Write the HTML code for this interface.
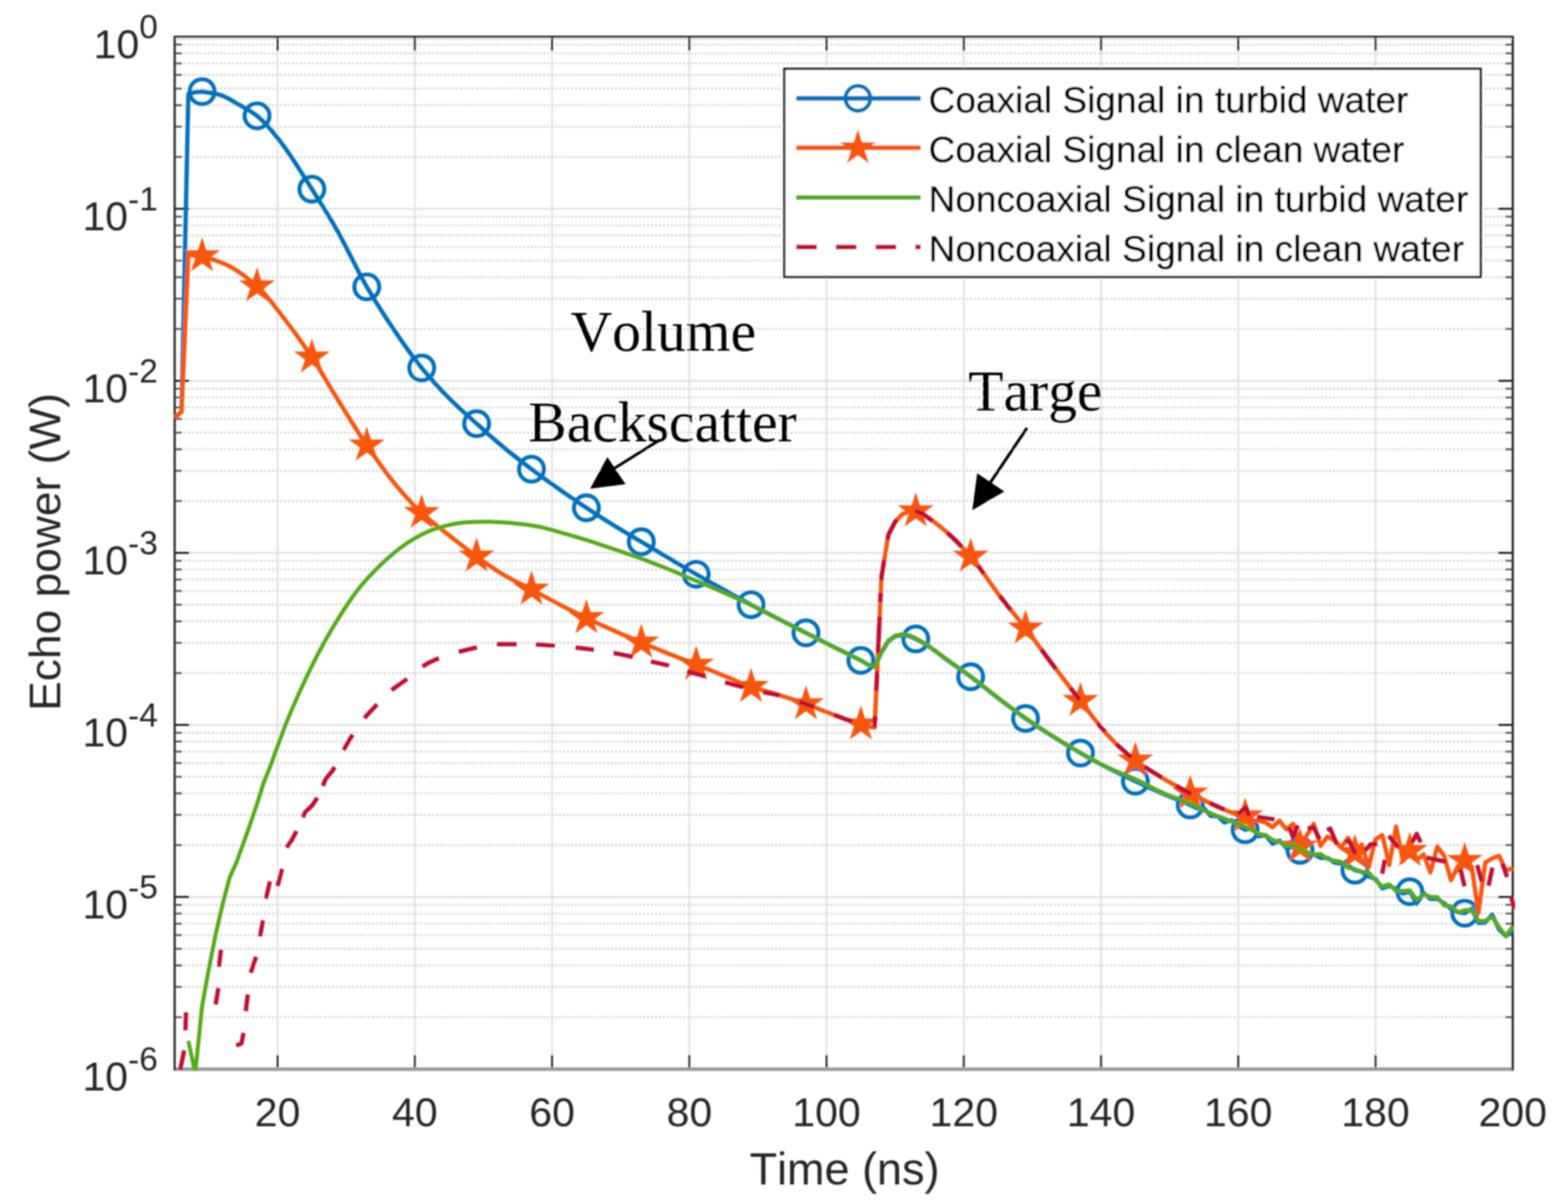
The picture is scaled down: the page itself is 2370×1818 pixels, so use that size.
<!DOCTYPE html>
<html lang="en"><head><meta charset="utf-8"><title>Echo power vs time</title>
<style>html,body{margin:0;padding:0;background:#fff;}body{width:2370px;height:1818px;overflow:hidden;}svg{display:block;}text{font-family:"Liberation Sans",sans-serif;fill:#262626;stroke:none;font-kerning:none;font-variant-ligatures:none;}.ser{font-family:"Liberation Serif",serif;fill:#000;stroke:none;}.ln{fill:none;stroke-linejoin:round;stroke-linecap:butt;}</style></head><body>
<svg width="2370" height="1818" viewBox="0 0 2370 1818">
<defs><filter id="bl" x="-2%" y="-2%" width="104%" height="104%"><feGaussianBlur stdDeviation="0.8"/></filter><clipPath id="cp"><rect x="261" y="54" width="2029" height="1564.2"/></clipPath></defs>
<rect width="2370" height="1818" fill="#fff"/>
<g filter="url(#bl)">
<g fill="none">
<path d="M278.5 1537.2H2274.5M278.5 1491.4H2274.5M278.5 1459H2274.5M278.5 1433.8H2274.5M278.5 1413.2H2274.5M278.5 1395.8H2274.5M278.5 1380.7H2274.5M278.5 1367.4H2274.5M278.5 1277.2H2274.5M278.5 1231.4H2274.5M278.5 1199H2274.5M278.5 1173.8H2274.5M278.5 1153.2H2274.5M278.5 1135.8H2274.5M278.5 1120.7H2274.5M278.5 1107.4H2274.5M278.5 1017.2H2274.5M278.5 971.4H2274.5M278.5 939H2274.5M278.5 913.8H2274.5M278.5 893.2H2274.5M278.5 875.8H2274.5M278.5 860.7H2274.5M278.5 847.4H2274.5M278.5 757.2H2274.5M278.5 711.4H2274.5M278.5 679H2274.5M278.5 653.8H2274.5M278.5 633.2H2274.5M278.5 615.8H2274.5M278.5 600.7H2274.5M278.5 587.4H2274.5M278.5 497.2H2274.5M278.5 451.4H2274.5M278.5 419H2274.5M278.5 393.8H2274.5M278.5 373.2H2274.5M278.5 355.8H2274.5M278.5 340.7H2274.5M278.5 327.4H2274.5M278.5 237.2H2274.5M278.5 191.4H2274.5M278.5 159H2274.5M278.5 133.8H2274.5M278.5 113.2H2274.5M278.5 95.8H2274.5M278.5 80.7H2274.5M278.5 67.4H2274.5" stroke="#d3d3d3" stroke-width="3" stroke-dasharray="3 3.03"/>
<path d="M264 1355.5H2286.5M264 1095.5H2286.5M264 835.5H2286.5M264 575.5H2286.5M264 315.5H2286.5" stroke="#dedede" stroke-width="2.6"/>
<path d="M264 58.5H2286.5" stroke="#d6d6d6" stroke-width="2.4"/>
<path d="M419.6 55.5V1615.5M627 55.5V1615.5M834.4 55.5V1615.5M1041.9 55.5V1615.5M1249.3 55.5V1615.5M1456.8 55.5V1615.5M1664.2 55.5V1615.5M1871.6 55.5V1615.5M2079.1 55.5V1615.5" stroke="#e0e0e0" stroke-width="2.6"/>
</g>
<g fill="none" stroke="#222">
<path d="M264 1537.2h11M2286.5 1537.2h-11M264 1491.4h11M2286.5 1491.4h-11M264 1459h11M2286.5 1459h-11M264 1433.8h11M2286.5 1433.8h-11M264 1413.2h11M2286.5 1413.2h-11M264 1395.8h11M2286.5 1395.8h-11M264 1380.7h11M2286.5 1380.7h-11M264 1367.4h11M2286.5 1367.4h-11M264 1277.2h11M2286.5 1277.2h-11M264 1231.4h11M2286.5 1231.4h-11M264 1199h11M2286.5 1199h-11M264 1173.8h11M2286.5 1173.8h-11M264 1153.2h11M2286.5 1153.2h-11M264 1135.8h11M2286.5 1135.8h-11M264 1120.7h11M2286.5 1120.7h-11M264 1107.4h11M2286.5 1107.4h-11M264 1017.2h11M2286.5 1017.2h-11M264 971.4h11M2286.5 971.4h-11M264 939h11M2286.5 939h-11M264 913.8h11M2286.5 913.8h-11M264 893.2h11M2286.5 893.2h-11M264 875.8h11M2286.5 875.8h-11M264 860.7h11M2286.5 860.7h-11M264 847.4h11M2286.5 847.4h-11M264 757.2h11M2286.5 757.2h-11M264 711.4h11M2286.5 711.4h-11M264 679h11M2286.5 679h-11M264 653.8h11M2286.5 653.8h-11M264 633.2h11M2286.5 633.2h-11M264 615.8h11M2286.5 615.8h-11M264 600.7h11M2286.5 600.7h-11M264 587.4h11M2286.5 587.4h-11M264 497.2h11M2286.5 497.2h-11M264 451.4h11M2286.5 451.4h-11M264 419h11M2286.5 419h-11M264 393.8h11M2286.5 393.8h-11M264 373.2h11M2286.5 373.2h-11M264 355.8h11M2286.5 355.8h-11M264 340.7h11M2286.5 340.7h-11M264 327.4h11M2286.5 327.4h-11M264 237.2h11M2286.5 237.2h-11M264 191.4h11M2286.5 191.4h-11M264 159h11M2286.5 159h-11M264 133.8h11M2286.5 133.8h-11M264 113.2h11M2286.5 113.2h-11M264 95.8h11M2286.5 95.8h-11M264 80.7h11M2286.5 80.7h-11M264 67.4h11M2286.5 67.4h-11" stroke="#555" stroke-width="2.8"/>
<path d="M264 1355.5h22M2286.5 1355.5h-22M264 1095.5h22M2286.5 1095.5h-22M264 835.5h22M2286.5 835.5h-22M264 575.5h22M2286.5 575.5h-22M264 315.5h22M2286.5 315.5h-22M419.6 55.5v21M419.6 1615.5v-21M627 55.5v21M627 1615.5v-21M834.4 55.5v21M834.4 1615.5v-21M1041.9 55.5v21M1041.9 1615.5v-21M1249.3 55.5v21M1249.3 1615.5v-21M1456.8 55.5v21M1456.8 1615.5v-21M1664.2 55.5v21M1664.2 1615.5v-21M1871.6 55.5v21M1871.6 1615.5v-21M2079.1 55.5v21M2079.1 1615.5v-21" stroke-width="2.8"/>
<path d="M262.6 1615.8H2287.9" stroke="#9c9c9c" stroke-width="5.6"/>
<path d="M264 1617.5V55.5H2286.5V1617.5" stroke-width="3.2"/>
</g>
<g clip-path="url(#cp)">
<path class="ln" d="M264 631 L274.4 622 L284.7 142 L295.1 139.3 L305.5 138.5 L315.9 140 L326.2 141.7 L336.6 144.7 L347 149.9 L357.3 156 L367.7 161.7 L378.1 167.8 L388.5 175 L398.8 184.4 L409.2 195.9 L419.6 208.5 L429.9 222.1 L440.3 237.1 L450.7 253 L461.1 269.4 L471.4 285.8 L481.8 302.2 L492.2 318.9 L502.6 336.1 L512.9 354.2 L523.3 373.9 L533.7 394.4 L544 414.6 L554.4 433.5 L564.8 450.9 L575.2 467.5 L585.5 483.5 L595.9 499 L606.3 514.1 L616.6 528.8 L627 542.8 L637.4 556 L647.8 568.3 L658.1 580 L668.5 591.2 L678.9 601.9 L689.2 612 L699.6 621.6 L710 630.9 L720.4 640.2 L730.7 649.5 L741.1 658.8 L751.5 667.8 L761.8 676.5 L772.2 684.9 L782.6 693.1 L793 701.1 L803.3 709 L813.7 716.7 L824.1 724.3 L834.4 731.7 L844.8 739 L855.2 746.3 L865.6 753.4 L875.9 760.5 L886.3 767.4 L896.7 774.2 L907.1 780.9 L917.4 787.5 L927.8 794 L938.2 800.3 L948.5 806.5 L958.9 812.6 L969.3 818.7 L979.7 824.9 L990 831.1 L1000.4 837.3 L1010.8 843.5 L1021.1 849.6 L1031.5 855.8 L1041.9 861.8 L1052.3 867.8 L1062.6 873.7 L1073 879.6 L1083.4 885.4 L1093.7 891.2 L1104.1 896.9 L1114.5 902.6 L1124.9 908.2 L1135.2 913.8 L1145.6 919.3 L1156 924.7 L1166.3 930 L1176.7 935.3 L1187.1 940.6 L1197.5 945.8 L1207.8 951 L1218.2 956.3 L1228.6 961.6 L1238.9 966.8 L1249.3 972.1 L1259.7 977.3 L1270.1 982.5 L1280.4 987.7 L1290.8 992.9 L1301.2 998 L1311.6 1004.3 L1321.9 1008 L1332.3 986 L1342.7 969 L1353 961.5 L1363.4 959.5 L1373.8 961 L1384.2 965.5 L1394.5 971.1 L1404.9 977.5 L1415.3 985 L1425.6 993 L1436 1000.5 L1446.4 1007.8 L1456.8 1015.1 L1467.1 1022.7 L1477.5 1030.6 L1487.9 1038.8 L1498.2 1047 L1508.6 1055 L1519 1062.9 L1529.4 1070.7 L1539.7 1078.4 L1550.1 1085.8 L1560.5 1092.9 L1570.8 1099.8 L1581.2 1106.4 L1591.6 1113 L1602 1119.5 L1612.3 1125.8 L1622.7 1132 L1633.1 1138 L1643.4 1143.9 L1653.8 1149.6 L1664.2 1155.1 L1674.6 1160.5 L1684.9 1165.7 L1695.3 1170.7 L1705.7 1175.6 L1716.1 1180.5 L1726.4 1185.4 L1736.8 1190.2 L1747.2 1194.9 L1757.5 1199.5 L1767.9 1203.8 L1778.3 1208 L1788.7 1212.1 L1799 1216.5 L1809.4 1221.5 L1819.8 1221.5 L1830.1 1233 L1840.5 1233.5 L1850.9 1243 L1861.3 1239.5 L1871.6 1248.2 L1882 1254 L1892.4 1251.2 L1902.7 1263.8 L1913.1 1262.3 L1923.5 1275.3 L1933.9 1270.3 L1944.2 1281.4 L1954.6 1279.8 L1965 1285 L1975.3 1291.4 L1985.7 1291.4 L1996.1 1296.4 L2006.5 1296.4 L2016.8 1303.5 L2027.2 1305 L2037.6 1308 L2047.9 1315 L2058.3 1317.5 L2068.7 1324.5 L2079.1 1328.4 L2089.4 1342.5 L2099.8 1339 L2110.2 1343 L2120.6 1350.5 L2130.9 1347.5 L2141.3 1365.6 L2151.7 1349.5 L2162 1358.5 L2172.4 1358 L2182.8 1365.1 L2193.2 1373.6 L2203.5 1378.6 L2213.9 1380 L2224.3 1373.6 L2234.6 1394.7 L2245 1394.2 L2255.4 1382.2 L2265.8 1404.7 L2276.1 1414.8 L2286.5 1405.7" stroke="#0072BD" stroke-width="6.5"/>
<g fill="none" stroke="#0072BD" stroke-width="6.1"><circle cx="305.5" cy="138.5" r="18.8"/><circle cx="388.5" cy="175" r="18.8"/><circle cx="471.4" cy="285.8" r="18.8"/><circle cx="554.4" cy="433.5" r="18.8"/><circle cx="637.4" cy="556" r="18.8"/><circle cx="720.4" cy="640.2" r="18.8"/><circle cx="803.3" cy="709" r="18.8"/><circle cx="886.3" cy="767.4" r="18.8"/><circle cx="969.3" cy="818.7" r="18.8"/><circle cx="1052.3" cy="867.8" r="18.8"/><circle cx="1135.2" cy="913.8" r="18.8"/><circle cx="1218.2" cy="956.3" r="18.8"/><circle cx="1301.2" cy="998" r="18.8"/><circle cx="1384.2" cy="965.5" r="18.8"/><circle cx="1467.1" cy="1022.7" r="18.8"/><circle cx="1550.1" cy="1085.8" r="18.8"/><circle cx="1633.1" cy="1138" r="18.8"/><circle cx="1716.1" cy="1180.5" r="18.8"/><circle cx="1799" cy="1216.5" r="18.8"/><circle cx="1882" cy="1254" r="18.8"/><circle cx="1965" cy="1285" r="18.8"/><circle cx="2047.9" cy="1315" r="18.8"/><circle cx="2130.9" cy="1347.5" r="18.8"/><circle cx="2213.9" cy="1380" r="18.8"/></g>
<path class="ln" d="M264 631.5 L274.4 622 L284.7 384.5 L295.1 386.2 L305.5 387 L315.9 390.4 L326.2 393.7 L336.6 397.5 L347 402.4 L357.3 408.5 L367.7 415.7 L378.1 423.7 L388.5 432.5 L398.8 442.9 L409.2 455.1 L419.6 468.4 L429.9 481.9 L440.3 495.6 L450.7 509.8 L461.1 524.6 L471.4 540 L481.8 556.3 L492.2 573.5 L502.6 590.8 L512.9 607.7 L523.3 624.5 L533.7 641.1 L544 657.4 L554.4 673 L564.8 688 L575.2 702.7 L585.5 716.8 L595.9 730 L606.3 742.4 L616.6 754 L627 764.9 L637.4 775 L647.8 784.2 L658.1 792.8 L668.5 801 L678.9 809.1 L689.2 817.3 L699.6 825.3 L710 833.2 L720.4 840.8 L730.7 848.3 L741.1 855.7 L751.5 862.7 L761.8 869.1 L772.2 874.9 L782.6 880.2 L793 885.4 L803.3 890.8 L813.7 896.4 L824.1 902 L834.4 907.5 L844.8 913 L855.2 918.3 L865.6 923.6 L875.9 928.7 L886.3 933.8 L896.7 938.7 L907.1 943.6 L917.4 948.3 L927.8 953 L938.2 957.6 L948.5 962 L958.9 966.4 L969.3 970.8 L979.7 975.2 L990 979.5 L1000.4 983.8 L1010.8 988 L1021.1 992.1 L1031.5 996.1 L1041.9 1000.1 L1052.3 1004.2 L1062.6 1008.4 L1073 1012.6 L1083.4 1016.8 L1093.7 1021 L1104.1 1025.3 L1114.5 1029.8 L1124.9 1034.1 L1135.2 1037.9 L1145.6 1041.2 L1156 1044.1 L1166.3 1046.9 L1176.7 1050 L1187.1 1053.3 L1197.5 1056.8 L1207.8 1060.3 L1218.2 1064 L1228.6 1067.9 L1238.9 1072 L1249.3 1076.1 L1259.7 1080 L1270.1 1083.9 L1280.4 1087.7 L1290.8 1091.3 L1301.2 1094.5 L1311.6 1097.8 L1321.9 1099.6 L1332.3 872 L1342.7 808.5 L1353 788.5 L1363.4 777.5 L1373.8 773.3 L1384.2 772.5 L1394.5 776.3 L1404.9 783.8 L1415.3 791.2 L1425.6 799.6 L1436 808.8 L1446.4 818.7 L1456.8 829.4 L1467.1 841 L1477.5 853.9 L1487.9 868.1 L1498.2 882.8 L1508.6 897.2 L1519 910.8 L1529.4 923.7 L1539.7 936.5 L1550.1 949.6 L1560.5 963.2 L1570.8 977.2 L1581.2 991.2 L1591.6 1005.2 L1602 1018.8 L1612.3 1032.3 L1622.7 1045.7 L1633.1 1059 L1643.4 1072.5 L1653.8 1086.1 L1664.2 1099.3 L1674.6 1111.3 L1684.9 1122 L1695.3 1131.8 L1705.7 1140.8 L1716.1 1149 L1726.4 1156.5 L1736.8 1163.3 L1747.2 1169.8 L1757.5 1176 L1767.9 1182.1 L1778.3 1187.9 L1788.7 1193.6 L1799 1199 L1809.4 1204.3 L1819.8 1209.3 L1830.1 1214.2 L1840.5 1219 L1850.9 1223.6 L1861.3 1228 L1871.6 1232.1 L1882 1233.6 L1892.4 1240.2 L1902.7 1240.2 L1913.1 1243.2 L1923.5 1250.2 L1933.9 1240.2 L1944.2 1253.2 L1954.6 1245.2 L1965 1279.4 L1975.3 1262.3 L1985.7 1245.2 L1996.1 1278.4 L2006.5 1264.3 L2016.8 1270.3 L2027.2 1280.4 L2037.6 1266.3 L2047.9 1288.8 L2058.3 1276.3 L2068.7 1310.5 L2079.1 1268.1 L2089.4 1262.1 L2099.8 1307.3 L2110.2 1249.1 L2120.6 1301.3 L2130.9 1285.6 L2141.3 1299.3 L2151.7 1291.3 L2162 1318.4 L2172.4 1279.2 L2182.8 1293.3 L2193.2 1330.4 L2203.5 1309.3 L2213.9 1300.7 L2224.3 1309.3 L2234.6 1379.7 L2245 1303.3 L2255.4 1297.3 L2265.8 1293.3 L2276.1 1315.4 L2286.5 1312.3" stroke="#F9560B" stroke-width="6.5"/>
<path d="M305.5 358.4L311.9 378.2L332.7 378.2L315.9 390.4L322.3 410.1L305.5 397.9L288.7 410.1L295.1 390.4L278.3 378.2L299.1 378.2ZM388.5 403.9L394.9 423.7L415.7 423.7L398.9 435.9L405.3 455.6L388.5 443.4L371.7 455.6L378.1 435.9L361.3 423.7L382 423.7ZM471.4 511.4L477.9 531.2L498.6 531.2L481.8 543.4L488.2 563.1L471.4 550.9L454.6 563.1L461 543.4L444.2 531.2L465 531.2ZM554.4 644.4L560.8 664.2L581.6 664.2L564.8 676.4L571.2 696.1L554.4 683.9L537.6 696.1L544 676.4L527.2 664.2L548 664.2ZM637.4 746.4L643.8 766.2L664.6 766.2L647.8 778.4L654.2 798.1L637.4 785.9L620.6 798.1L627 778.4L610.2 766.2L631 766.2ZM720.4 812.2L726.8 832L747.6 832L730.7 844.2L737.2 863.9L720.4 851.7L703.5 863.9L710 844.2L693.2 832L713.9 832ZM803.3 862.2L809.8 882L830.5 882L813.7 894.2L820.1 913.9L803.3 901.7L786.5 913.9L792.9 894.2L776.1 882L796.9 882ZM886.3 905.2L892.7 925L913.5 925L896.7 937.2L903.1 956.9L886.3 944.7L869.5 956.9L875.9 937.2L859.1 925L879.9 925ZM969.3 942.2L975.7 962L996.5 962L979.7 974.2L986.1 993.9L969.3 981.7L952.5 993.9L958.9 974.2L942.1 962L962.9 962ZM1052.3 975.6L1058.7 995.4L1079.5 995.4L1062.6 1007.6L1069.1 1027.3L1052.3 1015.1L1035.4 1027.3L1041.9 1007.6L1025.1 995.4L1045.8 995.4ZM1135.2 1009.3L1141.7 1029.1L1162.4 1029.1L1145.6 1041.3L1152 1061L1135.2 1048.8L1118.4 1061L1124.8 1041.3L1108 1029.1L1128.8 1029.1ZM1218.2 1035.4L1224.6 1055.2L1245.4 1055.2L1228.6 1067.4L1235 1087.1L1218.2 1074.9L1201.4 1087.1L1207.8 1067.4L1191 1055.2L1211.8 1055.2ZM1301.2 1065.9L1307.6 1085.7L1328.4 1085.7L1311.6 1097.9L1318 1117.6L1301.2 1105.4L1284.4 1117.6L1290.8 1097.9L1274 1085.7L1294.8 1085.7ZM1384.2 743.9L1390.6 763.7L1411.4 763.7L1394.5 775.9L1401 795.6L1384.2 783.4L1367.3 795.6L1373.8 775.9L1357 763.7L1377.7 763.7ZM1467.1 812.4L1473.5 832.2L1494.3 832.2L1477.5 844.4L1483.9 864.1L1467.1 851.9L1450.3 864.1L1456.7 844.4L1439.9 832.2L1460.7 832.2ZM1550.1 921L1556.5 940.8L1577.3 940.8L1560.5 953L1566.9 972.7L1550.1 960.5L1533.3 972.7L1539.7 953L1522.9 940.8L1543.7 940.8ZM1633.1 1030.4L1639.5 1050.2L1660.3 1050.2L1643.5 1062.4L1649.9 1082.1L1633.1 1069.9L1616.3 1082.1L1622.7 1062.4L1605.9 1050.2L1626.7 1050.2ZM1716.1 1120.4L1722.5 1140.2L1743.3 1140.2L1726.4 1152.4L1732.9 1172.1L1716.1 1159.9L1699.2 1172.1L1705.7 1152.4L1688.9 1140.2L1709.6 1140.2ZM1799 1170.4L1805.4 1190.2L1826.2 1190.2L1809.4 1202.4L1815.8 1222.1L1799 1209.9L1782.2 1222.1L1788.6 1202.4L1771.8 1190.2L1792.6 1190.2ZM1882 1205L1888.4 1224.7L1909.2 1224.7L1892.4 1236.9L1898.8 1256.7L1882 1244.5L1865.2 1256.7L1871.6 1236.9L1854.8 1224.7L1875.6 1224.7ZM1965 1250.8L1971.4 1270.5L1992.2 1270.5L1975.4 1282.7L1981.8 1302.5L1965 1290.3L1948.2 1302.5L1954.6 1282.7L1937.8 1270.5L1958.6 1270.5ZM2047.9 1260.2L2054.4 1280L2075.1 1280L2058.3 1292.2L2064.8 1311.9L2047.9 1299.7L2031.1 1311.9L2037.6 1292.2L2020.7 1280L2041.5 1280ZM2130.9 1257L2137.3 1276.8L2158.1 1276.8L2141.3 1289L2147.7 1308.8L2130.9 1296.6L2114.1 1308.8L2120.5 1289L2103.7 1276.8L2124.5 1276.8ZM2213.9 1272.1L2220.3 1291.9L2241.1 1291.9L2224.3 1304.1L2230.7 1323.8L2213.9 1311.6L2197.1 1323.8L2203.5 1304.1L2186.7 1291.9L2207.5 1291.9Z" fill="#F9560B"/>
<path class="ln" d="M284.7 1573 L295.1 1622 L305.5 1520 L315.9 1463 L326.2 1411 L336.6 1366 L347 1326.5 L357.3 1303.5 L367.7 1275 L378.1 1245.5 L388.5 1215 L398.8 1182 L409.2 1156.4 L419.6 1127.6 L429.9 1099.5 L440.3 1074.2 L450.7 1050.4 L461.1 1027.8 L471.4 1006.3 L481.8 986 L492.2 966.9 L502.6 949 L512.9 932.1 L523.3 916 L533.7 900.8 L544 887.2 L554.4 875.1 L564.8 864.1 L575.2 853.7 L585.5 844.1 L595.9 835.2 L606.3 827.2 L616.6 819.9 L627 813.5 L637.4 807.8 L647.8 802.9 L658.1 799 L668.5 795.8 L678.9 793.3 L689.2 791.3 L699.6 789.8 L710 789.1 L720.4 788.7 L730.7 788.5 L741.1 788.6 L751.5 788.9 L761.8 789.4 L772.2 790.2 L782.6 791.4 L793 792.6 L803.3 794 L813.7 795.8 L824.1 798.1 L834.4 800.9 L844.8 803.8 L855.2 806.8 L865.6 809.8 L875.9 812.9 L886.3 816.1 L896.7 819.4 L907.1 822.9 L917.4 826.4 L927.8 829.9 L938.2 833.4 L948.5 836.9 L958.9 840.5 L969.3 844.2 L979.7 848.1 L990 852.1 L1000.4 856.2 L1010.8 860.3 L1021.1 864.6 L1031.5 869 L1041.9 873.4 L1052.3 877.7 L1062.6 882.1 L1073 886.5 L1083.4 891 L1093.7 895.5 L1104.1 900.1 L1114.5 904.8 L1124.9 909.6 L1135.2 914.5 L1145.6 919.5 L1156 924.7 L1166.3 930 L1176.7 935.4 L1187.1 940.8 L1197.5 946.2 L1207.8 951.5 L1218.2 956.8 L1228.6 962 L1238.9 967.3 L1249.3 972.5 L1259.7 977.7 L1270.1 982.9 L1280.4 988 L1290.8 993 L1301.2 998 L1311.6 1004 L1321.9 1007.5 L1332.3 985 L1342.7 968 L1353 960.5 L1363.4 958.5 L1373.8 960 L1384.2 964.5 L1394.5 970.3 L1404.9 977 L1415.3 984.6 L1425.6 992.5 L1436 999.9 L1446.4 1007.2 L1456.8 1014.5 L1467.1 1022 L1477.5 1030 L1487.9 1038.2 L1498.2 1046.4 L1508.6 1054.5 L1519 1062.3 L1529.4 1070.1 L1539.7 1077.6 L1550.1 1085 L1560.5 1092.1 L1570.8 1099.1 L1581.2 1105.9 L1591.6 1112.5 L1602 1119 L1612.3 1125.3 L1622.7 1131.5 L1633.1 1137.5 L1643.4 1143.4 L1653.8 1149.2 L1664.2 1154.8 L1674.6 1160 L1684.9 1164.6 L1695.3 1168.9 L1705.7 1173 L1716.1 1177.5 L1726.4 1182.5 L1736.8 1187.9 L1747.2 1193.2 L1757.5 1198 L1767.9 1202.3 L1778.3 1206.2 L1788.7 1210.1 L1799 1214 L1809.4 1219 L1819.8 1225 L1830.1 1229 L1840.5 1233.5 L1850.9 1237 L1861.3 1241.5 L1871.6 1245.2 L1882 1249.2 L1892.4 1254.7 L1902.7 1259.8 L1913.1 1262.3 L1923.5 1269.3 L1933.9 1272.3 L1944.2 1278.4 L1954.6 1277.3 L1965 1283.4 L1975.3 1287.4 L1985.7 1291.4 L1996.1 1290.4 L2006.5 1298.4 L2016.8 1300.5 L2027.2 1302.5 L2037.6 1311.5 L2047.9 1313.5 L2058.3 1317.5 L2068.7 1318.5 L2079.1 1330.4 L2089.4 1339.5 L2099.8 1336.5 L2110.2 1346.5 L2120.6 1346.5 L2130.9 1345.5 L2141.3 1359.6 L2151.7 1351.5 L2162 1355.5 L2172.4 1355.5 L2182.8 1368.6 L2193.2 1369.6 L2203.5 1378.6 L2213.9 1375.6 L2224.3 1375.6 L2234.6 1391.7 L2245 1391.7 L2255.4 1385.7 L2265.8 1400.7 L2276.1 1414.8 L2286.5 1399.7" stroke="#55AB18" stroke-width="6.0"/>
<path class="ln" d="M272.3 1617 L278.4 1587.3 M280.3 1557 L281.2 1530 M326 1518 L330 1493 M331 1461 L334 1435 M357 1580 L365 1577 L368 1561 M371.5 1528 L374.5 1503 M379 1470 L387 1446 M393 1415 L397.5 1391 M402 1358 L408 1332 M419.5 1339.3 L426.3 1313.3 M433.2 1280.7 L440.3 1270.6 L448.2 1256 M457.8 1235.1 L461.1 1227.5 L471.4 1217.6 L479.7 1205.7 M488 1187.5 L492.2 1177.2 L502.6 1164.9 L505.8 1159.2 M519.5 1133.6 L523.3 1126.1 L533 1110.1 M551 1085.3 L554.4 1081 L564.8 1070 L570 1064.6 M592 1043 L595.9 1039.7 L606.3 1032.6 L615.3 1026.2 M638.6 1007.1 L647.8 1001.8 L658.1 996.9 L663.3 994.9 M693.4 985.2 L699.6 983.5 L710 980.8 L720.4 978.5 L720.8 978.4 M751 973.5 L751.5 973.5 L761.8 973.5 L772.2 973.5 L781 973.5 M809.9 974 L813.7 974.1 L824.1 974.7 L834.4 975.5 L838.6 975.8 M870 978.5 L875.9 979.2 L886.3 980.4 L896.7 981.9 L897.5 982 M927.7 987 L927.8 987 L938.2 988.9 L948.5 991 L956.4 992.7 M983.8 999.6 L990 1001.1 L1000.4 1003.4 L1010.8 1005.9 L1011 1006 M1038.6 1014.6 L1041.9 1015.6 L1052.3 1018.4 L1062.6 1021.1 L1066 1022 M1096 1031 L1104.1 1033.3 L1114.5 1036.1 L1123.6 1038.5 M1153.7 1046 L1156 1046.5 L1166.3 1048.4 L1176.7 1050.5 L1178.4 1051 M1208.5 1060.5 L1218.2 1064 L1228.6 1067.8 L1230.4 1068.6 M1260.5 1080.3 L1270.1 1083.9 L1280.4 1087.7 L1288 1090.3 M1322 1099 L1322.7 1082 M1324.5 1044 L1325.8 1014 M1327.1 986.6 L1329.6 931.8 M1330.6 909.9 L1331.2 896.2 M1332.1 877 L1332.3 872 L1336.5 846 M1341.5 815.6 L1342.7 808.5 L1353 788.5 L1356 785.4 M1383 772.6 L1384.2 772.5 L1394.5 776.3 L1404.9 783.8 L1409.5 787.1 M1431.8 805.1 L1436 808.8 L1446.4 818.7 L1453.7 826.3 M1478 854.6 L1487 866.9 M1511 900.4 L1519 910.8 L1527.7 921.6 M1574 981.5 L1581.2 991.2 L1591.6 1005.2 L1596 1011 M1618 1039.7 L1622.7 1045.7 L1631.8 1057.4 M1659 1092.7 L1664.2 1099.3 L1670 1106 M1687 1124 L1695.3 1131.8 L1705.7 1140.8 L1710.1 1144.3 M1730.2 1159 L1736.8 1163.3 L1747.2 1169.8 L1756.3 1175.3 M1777.4 1187.4 L1778.3 1187.9 L1788.7 1193.6 L1799 1199 L1800.5 1199.7 M1828.7 1213.5 L1830.1 1214.2 L1840.5 1219 L1850.8 1223.5 M1871 1230.1 L1883.1 1220.1 L1888.1 1233.1 M1900.2 1234.2 L1926.3 1238.2 M1948.4 1250.2 L1954.4 1265.3 L1961.5 1247.2 M1976.5 1252.2 L1985.6 1250.2 L1994.6 1268.3 M2005.7 1254.2 L2010.7 1252.2 L2020.7 1276.3 M2033.8 1272.3 L2038.8 1270.3 L2048.8 1290.4 M2062.9 1285.4 L2071 1276.3 L2082 1275.2 M2089.1 1320.4 L2093.1 1299.3 M2099.1 1263.1 L2113.2 1280.2 M2134.3 1273.2 L2141.3 1260.1 L2147.3 1273.2 M2156.4 1296.3 L2185.5 1302.3 M2207.6 1313.4 L2213.6 1339.5 M2232.7 1307.3 L2239.8 1332.4 M2249.8 1338.5 L2255.8 1311.3 M2270.9 1305.3 L2277.9 1325.4 M2284 1355.5 L2289 1373.6" stroke="#C00C34" stroke-width="6.5"/>
</g>
<rect x="1185.5" y="104" width="1052.5" height="314.5" fill="#fff" stroke="#222" stroke-width="3.5"/>
<g class="ln" stroke-width="7.2">
<path d="M1203.5 148.6H1391.5" stroke="#0072BD"/>
<path d="M1203.5 223.3H1391.5" stroke="#F9560B"/>
<path d="M1203.5 298.5H1391.5" stroke="#55AB18"/>
<path d="M1203.5 373.3H1391.5" stroke="#C00C34" stroke-dasharray="31 29"/>
</g>
<g fill="none" stroke="#0072BD" stroke-width="6.1"><circle cx="1296.7" cy="148.6" r="18.8"/></g>
<path d="M1296.7 195.2L1303.1 215L1323.9 215L1307.1 227.2L1313.5 246.9L1296.7 234.7L1279.9 246.9L1286.3 227.2L1269.5 215L1290.3 215Z" fill="#F9560B"/>
<g font-size="56">
<text x="1403.5" y="169.9" style="fill:#000;stroke:#000;stroke-width:0.6px">Coaxial Signal in turbid water</text>
<text x="1403.5" y="244.6" style="fill:#000;stroke:#000;stroke-width:0.6px">Coaxial Signal in clean water</text>
<text x="1403.5" y="319.8" style="fill:#000;stroke:#000;stroke-width:0.6px">Noncoaxial Signal in turbid water</text>
<text x="1403.5" y="394.6" style="fill:#000;stroke:#000;stroke-width:0.6px">Noncoaxial Signal in clean water</text>
</g>
<text class="ser" x="862.5" y="529.5" font-size="87">Volume</text>
<text class="ser" x="798.5" y="666.5" font-size="87">Backscatter</text>
<text class="ser" x="1463.5" y="619.5" font-size="87">Targe</text>
<path d="M997.5 664.7L925 710" stroke="#000" stroke-width="4.4" fill="none"/>
<path d="M892 738.6L918 690.7L945.5 731.8Z" fill="#000"/>
<path d="M1552.3 646.8L1493 735" stroke="#000" stroke-width="4.4" fill="none"/>
<path d="M1469.6 771L1477 715.3L1518 742.7Z" fill="#000"/>
<g font-size="62" text-anchor="middle">
<text x="419.6" y="1702">20</text>
<text x="627" y="1702">40</text>
<text x="834.4" y="1702">60</text>
<text x="1041.9" y="1702">80</text>
<text x="1249.3" y="1702">100</text>
<text x="1456.8" y="1702">120</text>
<text x="1664.2" y="1702">140</text>
<text x="1871.6" y="1702">160</text>
<text x="2079.1" y="1702">180</text>
<text x="2286.5" y="1702">200</text>
</g>
<g font-size="62" text-anchor="end">
<text x="238.5" y="88.3">10<tspan font-size="50.5" dy="-30.5">0</tspan></text>
<text x="238.5" y="348.3">10<tspan font-size="50.5" dy="-30.5">-1</tspan></text>
<text x="238.5" y="608.3">10<tspan font-size="50.5" dy="-30.5">-2</tspan></text>
<text x="238.5" y="868.3">10<tspan font-size="50.5" dy="-30.5">-3</tspan></text>
<text x="238.5" y="1128.3">10<tspan font-size="50.5" dy="-30.5">-4</tspan></text>
<text x="238.5" y="1388.3">10<tspan font-size="50.5" dy="-30.5">-5</tspan></text>
<text x="238.5" y="1648.3">10<tspan font-size="50.5" dy="-30.5">-6</tspan></text>
</g>
<text x="1276.5" y="1789.5" font-size="68" text-anchor="middle">Time (ns)</text>
<text transform="translate(91 834) rotate(-90)" font-size="67" text-anchor="middle">Echo power (W)</text>
</g>
</svg></body></html>
